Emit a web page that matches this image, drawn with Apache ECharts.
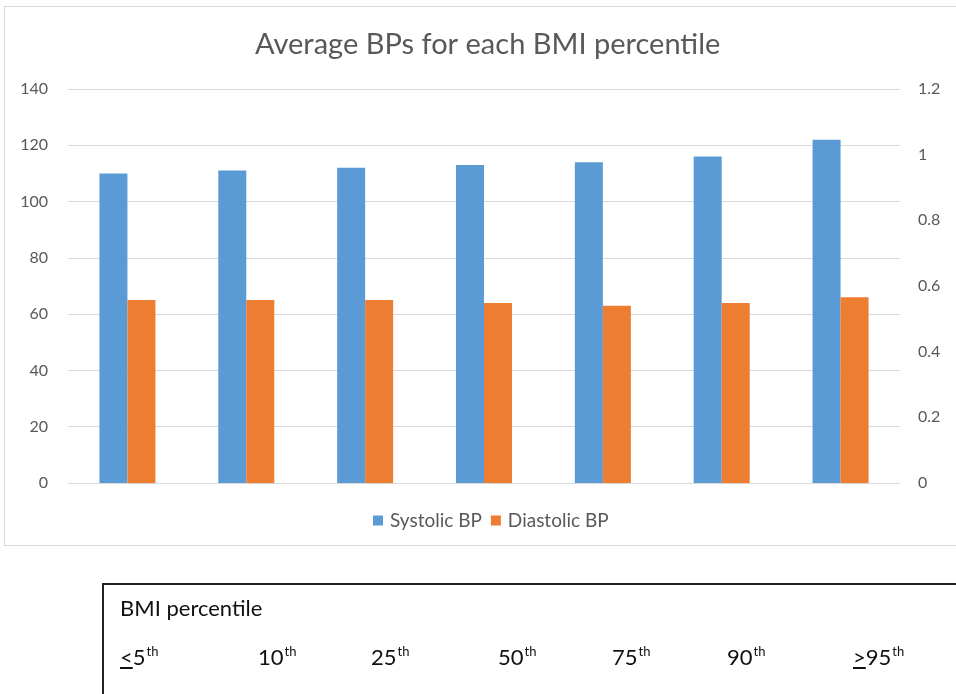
<!DOCTYPE html>
<html>
<head>
<meta charset="utf-8">
<script src="https://cdn.jsdelivr.net/npm/echarts@6/dist/echarts.min.js"></script>
<style>
html,body{margin:0;padding:0;background:#fff;width:956px;height:694px;overflow:hidden;font-family:Lato,"Open Sans",sans-serif;}
#frame{position:absolute;left:4px;top:6px;width:960px;height:540px;border:1px solid #d9d9d9;box-sizing:border-box;}
#chart{position:absolute;left:0;top:0;width:956px;height:694px;}
#tbl{position:absolute;left:102px;top:583px;width:900px;height:200px;border:2px solid #222;box-sizing:border-box;color:#111;font-size:22px;line-height:22px;}
#tbl .t{position:absolute;left:16px;top:12px;white-space:nowrap;}
#tbl .l{position:absolute;top:61px;white-space:nowrap;}
#tbl .s{font-size:13px;position:relative;top:-9px;margin-left:1px;}
</style>
</head>
<body>
<div id="frame"></div>
<div id="chart"></div>
<div id="tbl"><div class="t" id="tblTitle"></div></div>
<script>
const categories = ["≤5th", "10th", "25th", "50th", "75th", "90th", "≥95th"];
const tableTitle = "BMI percentile";
const tableLabels = [
  {pre: "<", num: "5", sup: "th"},
  {pre: "", num: "10", sup: "th"},
  {pre: "", num: "25", sup: "th"},
  {pre: "", num: "50", sup: "th"},
  {pre: "", num: "75", sup: "th"},
  {pre: "", num: "90", sup: "th"},
  {pre: ">", num: "95", sup: "th"}
];
const tableLabelX = [16, 154, 267, 394, 508, 623, 749];
const systolic = [110, 111, 112, 113, 114, 116, 122];
const diastolic = [65, 65, 65, 64, 63, 64, 66];
const titleText = "Average BPs for each BMI percentile";
const seriesNames = ["Systolic BP", "Diastolic BP"];

document.getElementById('tblTitle').textContent = tableTitle;
const tbl = document.getElementById('tbl');
tableLabels.forEach((t, i) => {
  const d = document.createElement('div');
  d.className = 'l';
  d.style.left = tableLabelX[i] + 'px';
  if (t.pre) {
    const u = document.createElement('span');
    u.style.textDecoration = 'underline';
    u.textContent = t.pre;
    d.appendChild(u);
  }
  d.appendChild(document.createTextNode(t.num));
  const s = document.createElement('span');
  s.className = 's';
  s.textContent = t.sup;
  d.appendChild(s);
  tbl.appendChild(d);
});

const chart = echarts.init(document.getElementById('chart'), null, {renderer: 'canvas'});
const labelColor = '#595959';
chart.setOption({
  animation: false,
  title: {
    text: titleText, left: 250, top: 25,
    textStyle: {fontFamily: 'Lato', fontWeight: 'normal', fontSize: 29, color: labelColor}
  },
  legend: {
    data: seriesNames, bottom: 159, left: 368, itemWidth: 10, itemHeight: 10, itemGap: 9,
    icon: 'rect',
    textStyle: {fontFamily: 'Lato', fontSize: 19, color: labelColor, padding: [0, 0, 0, 2]}
  },
  grid: {left: 68, right: 56, top: 89, bottom: 211},
  xAxis: {
    type: 'category', data: categories,
    axisLine: {show: true, lineStyle: {color: '#d9d9d9'}},
    axisTick: {show: false}, axisLabel: {show: false}
  },
  yAxis: [
    {type: 'value', min: 0, max: 140, interval: 20,
     axisLine: {show: false}, axisTick: {show: false},
     axisLabel: {margin: 20, fontFamily: 'Lato', fontSize: 16, color: labelColor},
     splitLine: {lineStyle: {color: '#d9d9d9', width: 1}}},
    {type: 'value', min: 0, max: 1.2, interval: 0.2, position: 'right',
     axisLine: {show: false}, axisTick: {show: false},
     axisLabel: {margin: 18, fontFamily: 'Lato', fontSize: 16, color: labelColor},
     splitLine: {show: false}}
  ],
  series: [
    {name: seriesNames[0], type: 'bar', data: systolic, barWidth: 28, barGap: '0%',
     itemStyle: {color: '#5B9BD5'}},
    {name: seriesNames[1], type: 'bar', data: diastolic, barWidth: 28,
     itemStyle: {color: '#ED7D31'}}
  ]
});
</script>
</body>
</html>
